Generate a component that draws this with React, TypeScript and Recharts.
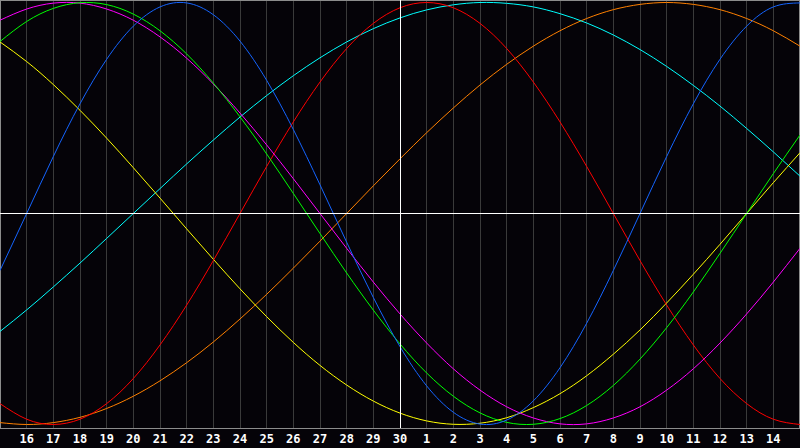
import { LineChart, Line, XAxis, YAxis, CartesianGrid, ReferenceLine } from "recharts";

// day of month at each column, first and last are the chart edges
const days = [15, 16, 17, 18, 19, 20, 21, 22, 23, 24, 25, 26, 27, 28, 29, 30, 1, 2, 3, 4, 5, 6, 7, 8, 9, 10, 11, 12, 13, 14, 15];

const physical = [-0.27, 0, 0.27, 0.52, 0.731, 0.888, 0.979, 0.998, 0.942, 0.817, 0.631, 0.398, 0.136, -0.136, -0.398, -0.631, -0.817, -0.942, -0.998, -0.979, -0.888, -0.731, -0.52, -0.27, 0, 0.27, 0.52, 0.731, 0.888, 0.979, 0.998];
const emotional = [-0.901, -0.975, -1, -0.975, -0.901, -0.782, -0.623, -0.434, -0.223, 0, 0.223, 0.434, 0.623, 0.782, 0.901, 0.975, 1, 0.975, 0.901, 0.782, 0.623, 0.434, 0.223, 0, -0.223, -0.434, -0.623, -0.782, -0.901, -0.975, -1];
const intellectual = [0.815, 0.91, 0.972, 0.999, 0.99, 0.945, 0.866, 0.756, 0.618, 0.458, 0.282, 0.095, -0.095, -0.282, -0.458, -0.618, -0.756, -0.866, -0.945, -0.99, -0.999, -0.972, -0.91, -0.815, -0.69, -0.541, -0.372, -0.189, 0, 0.189, 0.372];
const intuitive = [0.916, 0.969, 0.997, 0.997, 0.969, 0.916, 0.837, 0.736, 0.614, 0.476, 0.325, 0.165, 0, -0.165, -0.325, -0.476, -0.614, -0.736, -0.837, -0.916, -0.969, -0.997, -0.997, -0.969, -0.916, -0.837, -0.736, -0.614, -0.476, -0.325, -0.165];
const aesthetic = [0.813, 0.72, 0.611, 0.489, 0.357, 0.217, 0.073, -0.073, -0.217, -0.357, -0.489, -0.611, -0.72, -0.813, -0.889, -0.946, -0.983, -0.999, -0.994, -0.968, -0.92, -0.854, -0.769, -0.667, -0.552, -0.424, -0.288, -0.146, 0, 0.146, 0.288];
const awareness = [-0.991, -1, -0.991, -0.966, -0.924, -0.866, -0.793, -0.707, -0.609, -0.5, -0.383, -0.259, -0.131, 0, 0.131, 0.259, 0.383, 0.5, 0.609, 0.707, 0.793, 0.866, 0.924, 0.966, 0.991, 1, 0.991, 0.966, 0.924, 0.866, 0.793];
const spiritual = [-0.559, -0.457, -0.348, -0.235, -0.118, 0, 0.118, 0.235, 0.348, 0.457, 0.559, 0.653, 0.738, 0.813, 0.876, 0.927, 0.965, 0.989, 1, 0.996, 0.979, 0.947, 0.903, 0.846, 0.777, 0.697, 0.607, 0.509, 0.403, 0.292, 0.177];

const todayIndex = 15;

const rows = days.map((d, i) => ({
  k: i,
  physical: physical[i],
  emotional: emotional[i],
  intellectual: intellectual[i],
  intuitive: intuitive[i],
  aesthetic: aesthetic[i],
  awareness: awareness[i],
  spiritual: spiritual[i],
}));

const tickIndex = days.map((_, i) => i).slice(1, -1);

const series = [
  { key: "awareness", color: "#ff8000" },
  { key: "spiritual", color: "#00ffff" },
  { key: "aesthetic", color: "#ffff00" },
  { key: "emotional", color: "#ff0000" },
  { key: "intuitive", color: "#ff00ff" },
  { key: "intellectual", color: "#00ff00" },
  { key: "physical", color: "#1464ff" },
];

export default function App() {
  return (
    <div style={{ position: "absolute", left: 0, top: 0, width: 800, height: 448, background: "#050308" }}>
      <LineChart width={800} height={448} data={rows} margin={{ top: 0, right: 0, bottom: 0, left: 0 }}>
        <CartesianGrid horizontal={false} stroke="#3a3a3a" shapeRendering="crispEdges" />
        <XAxis
          dataKey="k"
          type="number"
          domain={[0, 30]}
          ticks={tickIndex}
          interval={0}
          height={20}
          tickLine={false}
          tickMargin={0}
          axisLine={{ stroke: "#8c8c8c", shapeRendering: "crispEdges" }}
          tickFormatter={(i: number) => String(days[i])}
          tick={{ fill: "#ffffff", fontSize: 12, fontWeight: "bold", fontFamily: "DejaVu Sans Mono" }}
        />
        <YAxis hide domain={[-1.0166, 1.0118]} />
        <ReferenceLine x={0} stroke="#8c8c8c" strokeWidth={2} />
        <ReferenceLine x={30} stroke="#8c8c8c" strokeWidth={2} />
        <ReferenceLine y={1.0118} stroke="#8c8c8c" strokeWidth={2} />
        {series.map((s) => (
          <Line
            key={s.key}
            type="natural"
            dataKey={s.key}
            stroke={s.color}
            strokeWidth={1}
            dot={false}
            activeDot={false}
            isAnimationActive={false}
          />
        ))}
        <ReferenceLine y={0} stroke="#ffffff" shapeRendering="crispEdges" />
        <ReferenceLine x={todayIndex} stroke="#ffffff" shapeRendering="crispEdges" />
      </LineChart>
    </div>
  );
}
